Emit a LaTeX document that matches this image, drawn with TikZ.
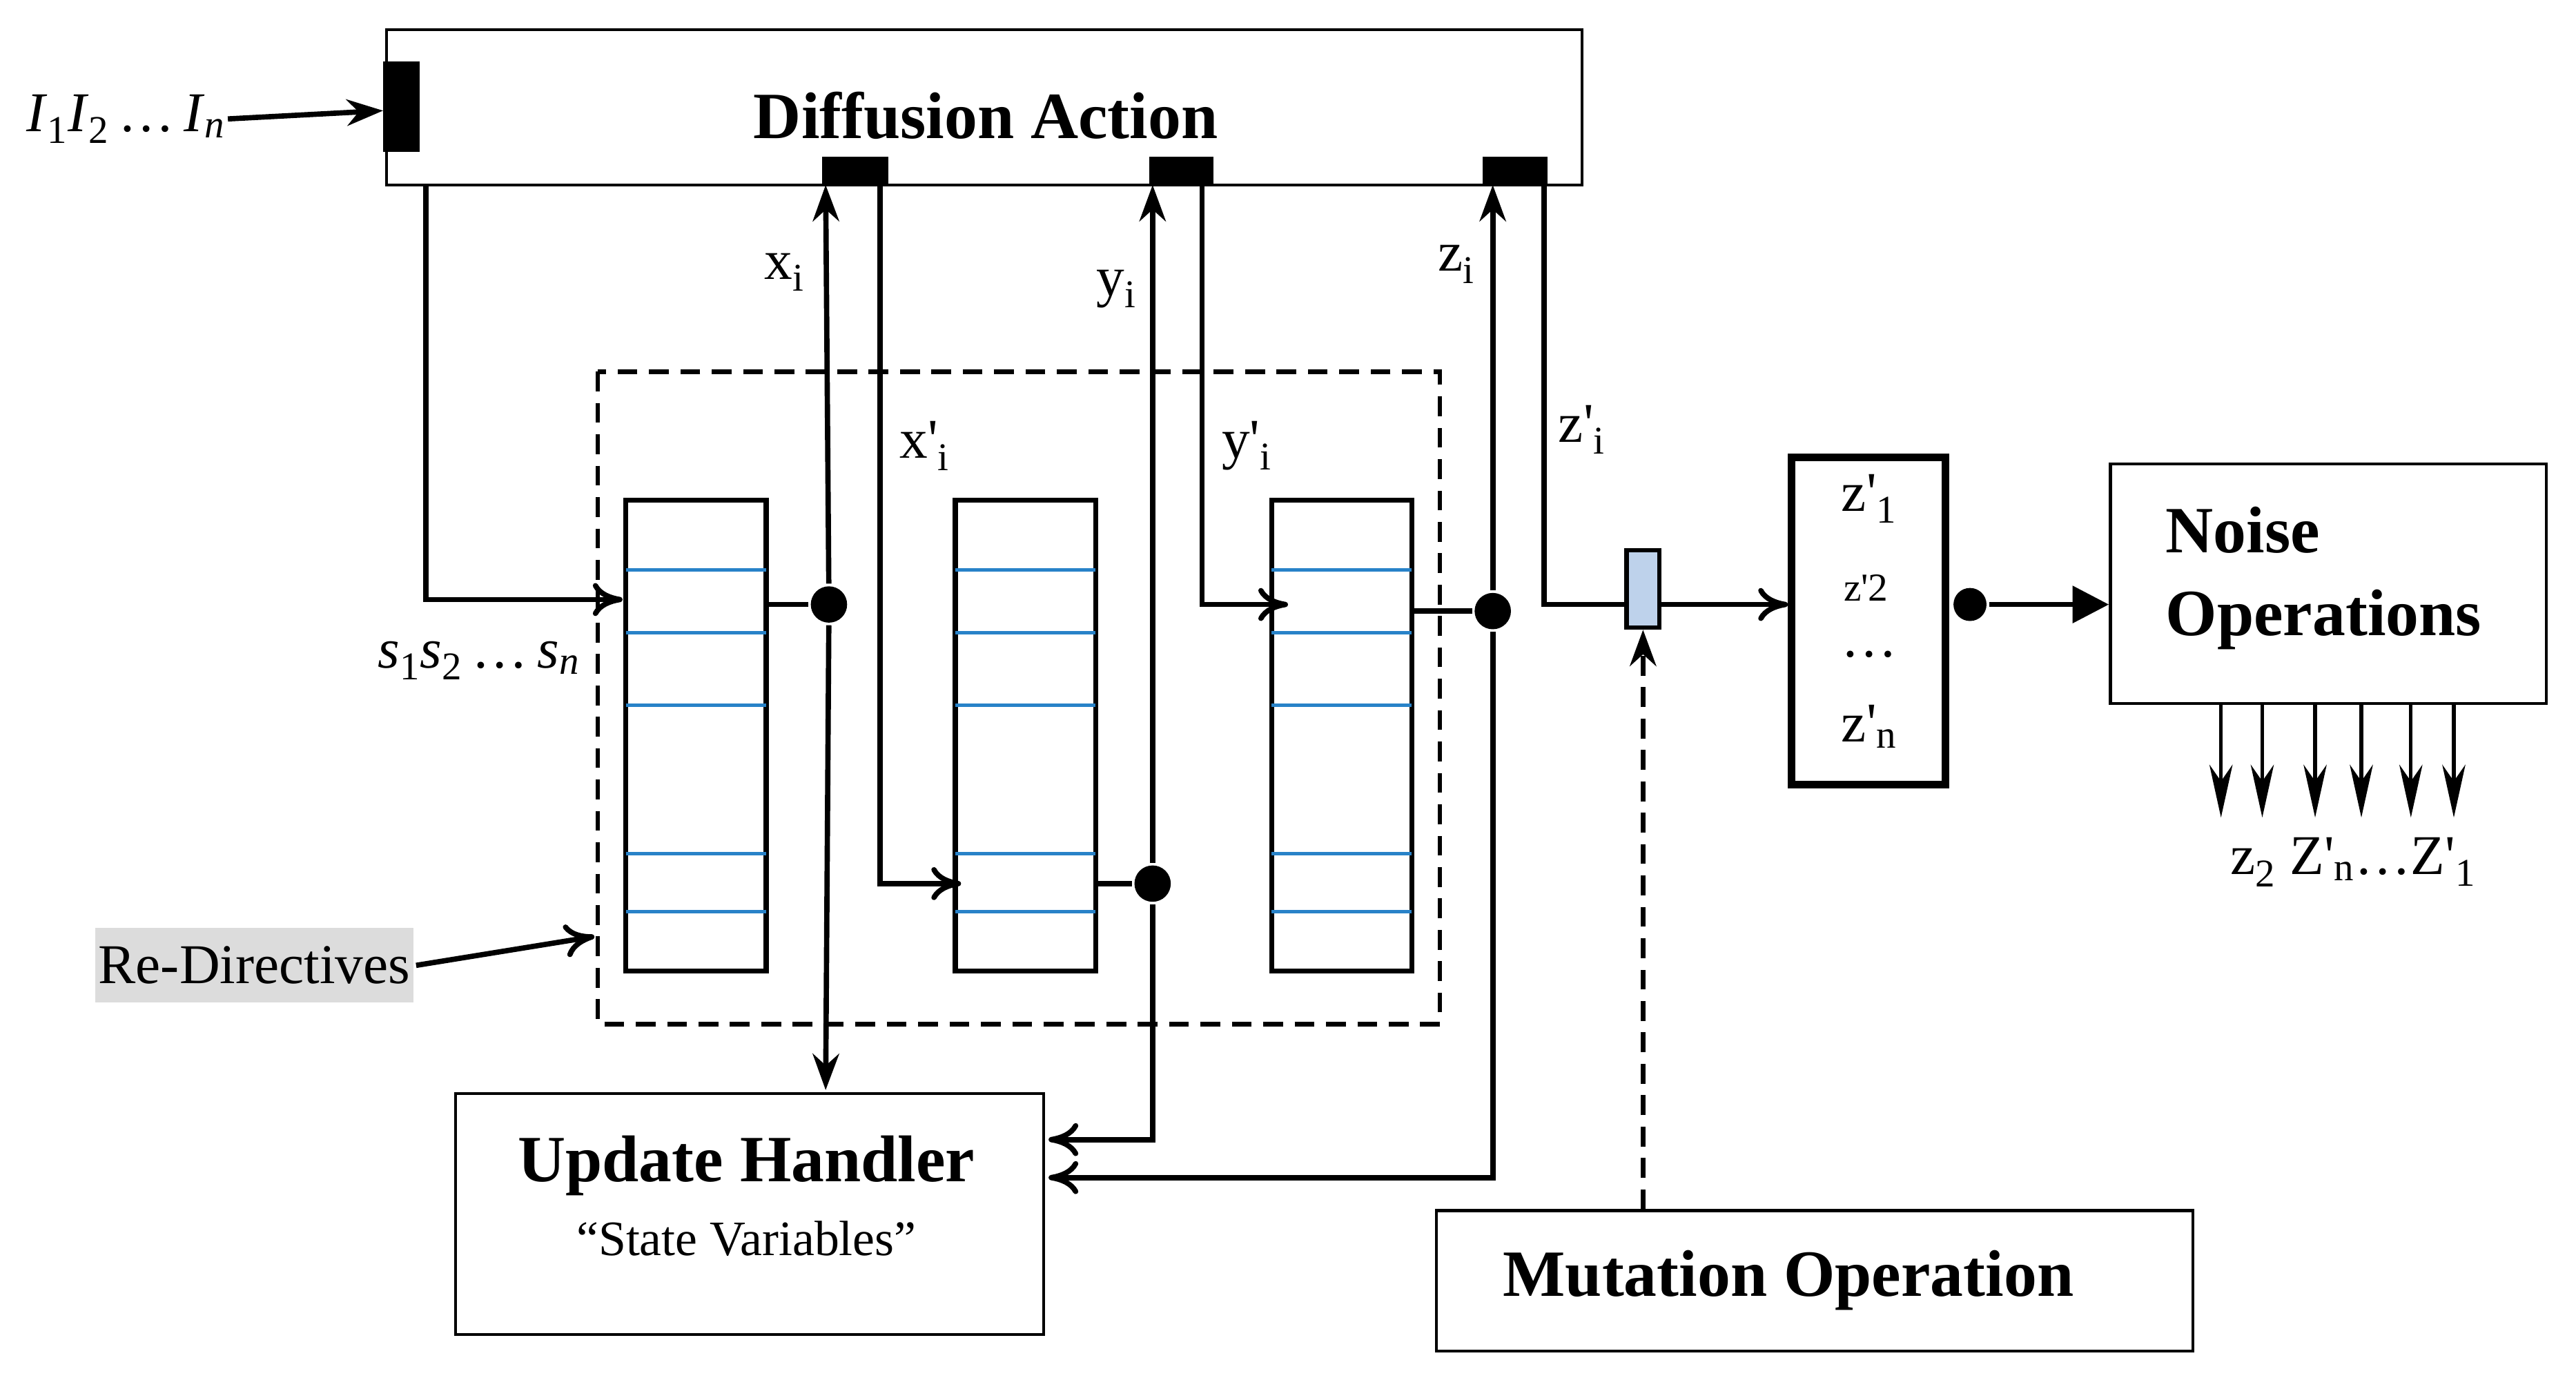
\documentclass[tikz,border=0pt]{standalone}
\usepackage{fontspec}
\setmainfont{Liberation Serif}
\usetikzlibrary{arrows.meta}
\newcommand{\pr}{\textquotesingle}
\begin{document}
\begin{tikzpicture}[x=1pt,y=-1pt,line width=3.2pt,
  box/.style={draw,line width=1.8pt,inner sep=0pt},
  port/.style={fill=black,draw=none},
  reg/.style={draw,line width=3pt,inner sep=0pt,minimum width=85pt,minimum height=285pt},
  arr/.style={-{Stealth[length=22pt,width=16pt]}},
  oarr/.style={-{To[length=18pt,width=20pt]}},
  dot/.style={circle,fill=black,inner sep=0pt,minimum size=22pt},
  lab/.style={font=\fontsize{34}{40}\selectfont,inner sep=0pt},
  bold/.style={font=\fontsize{40}{46}\selectfont\bfseries,inner sep=0pt}]
\useasboundingbox (0,0) rectangle (1560,834);
% Diffusion box
\node[box,minimum width=724pt,minimum height=94pt] (diff) at (596,65) {};
\node[bold] (difft) at (597,70) {Diffusion Action};
\fill[port] (232,37) rectangle (254,92);
\coordinate (pin) at (232,67);
\node[lab,anchor=east] (I) at (138,72) {\textit{I}\textsubscript{1}\textit{I}\textsubscript{2}\,\dots\,\textit{I}\textsubscript{\itshape n}};
\draw[arr] (I.east) -- (pin);
\fill[port] (498,95) rectangle (538,112);
\fill[port] (696,95) rectangle (735,112);
\fill[port] (898,95) rectangle (937,112);
% dashed
\draw[line width=2.8pt,dash pattern=on 12pt off 7pt] (362,225) rectangle (872,620);
% registers
\foreach \n/\x in {r1/421.5,r2/621,r3/812.5}{
  \node[reg] (\n) at (\x,445.5) {};
  \foreach \yy in {345,383,427,517,552}
    \draw[line width=2pt,color={rgb,255:red,40;green,130;blue,200}] ([xshift=1.5pt]\n.west|-0,\yy) -- ([xshift=-1.5pt]\n.east|-0,\yy);
}
% left input
\coordinate (c0) at (258,112);
\coordinate (c1) at (258,363);
\coordinate (s1) at (377,363);
\draw[oarr] (c0) -- (c1) -- (s1);
\node[lab] (s) at (290,400) {\textit{s}\textsubscript{1}\textit{s}\textsubscript{2}\,\dots\,\textit{s}\textsubscript{\itshape n}};
% Update handler
\node[box,minimum width=356pt,minimum height=146pt] (uh) at (454,735) {};
\node[bold] (uht) at (452,706) {Update Handler};
\node[lab,font=\fontsize{30}{36}\selectfont] (uhs) at (452,750) {“State Variables”};
% x_i
\node[dot] (d1) at (502,366) {};
\coordinate (xt) at (500,112); \coordinate (xb) at (500,660);
\draw (r1.east|-0,366) -- (d1);
\draw[arr] (d1) -- (xt);
\draw[arr] (d1) -- (xb);
\node[lab] (xl) at (475,165) {x\textsubscript{i}};
% x'_i
\coordinate (xp0) at (533,112); \coordinate (xp1) at (533,535); \coordinate (xp2) at (582,535);
\draw[oarr] (xp0) -- (xp1) -- (xp2);
\node[lab] (xpl) at (560,270) {x\pr\textsubscript{i}};
% y_i
\node[dot] (d2) at (698,535) {};
\coordinate (yt) at (698,112); \coordinate (yb) at (698,690); \coordinate (ye) at (635,690);
\draw (r2.east|-0,535) -- (d2);
\draw[arr] (d2) -- (yt);
\draw[oarr] (d2) -- (yb) -- (ye);
\node[lab] (yl) at (676,175) {y\textsubscript{i}};
% y'_i
\coordinate (yp0) at (728,112); \coordinate (yp1) at (728,366); \coordinate (yp2) at (780,366);
\draw[oarr] (yp0) -- (yp1) -- (yp2);
\node[lab] (ypl) at (755,270) {y\pr\textsubscript{i}};
% z_i
\node[dot] (d3) at (904,370) {};
\coordinate (zt) at (904,112); \coordinate (zb) at (904,713); \coordinate (ze) at (635,713);
\draw (r3.east|-0,370) -- (d3);
\draw[arr] (d3) -- (zt);
\draw[oarr] (d3) -- (zb) -- (ze);
\node[lab] (zl) at (882,160) {z\textsubscript{i}};
% z'_i
\node[draw,line width=2.6pt,fill={rgb,255:red,190;green,210;blue,235},minimum width=20pt,minimum height=47pt,inner sep=0pt] (mut) at (995,356.5) {};
\coordinate (zp0) at (935,112); \coordinate (zp1) at (935,366);
\draw (zp0) -- (zp1) -- (mut.west|-0,366);
\node[lab] (zpl) at (958,260) {z\pr\textsubscript{i}};
% z box
\node[draw,line width=4.5pt,minimum width=93pt,minimum height=198pt,inner sep=0pt] (zb2) at (1131.5,376) {};
\draw[oarr] (mut.east|-0,366) -- (zb2.west|-0,366);
\node[lab] (z1) at (1132,302) {z\pr\textsubscript{1}};
\node[lab,font=\fontsize{24}{28}\selectfont] (z2) at (1130,356) {z\pr2};
\node[lab] (z3) at (1132,396) {\dots};
\node[lab] (zn) at (1132,440) {z\pr\textsubscript{n}};
% noise
\node[box,minimum width=264pt,minimum height=145pt] (noise) at (1410,353.5) {};
\node[bold,align=left,anchor=west,font=\fontsize{40}{50}\selectfont\bfseries] (nt) at (1310,350) {Noise\\Operations};
\node[dot,minimum size=20pt] (d4) at (1193,366) {};
\draw[-{Triangle[length=22pt,width=22pt]}] (d4) -- (noise.west|-0,366);
\foreach \x [count=\i] in {1345,1370,1402,1430,1460,1486}{
  \coordinate (na\i) at (\x,426); \coordinate (nb\i) at (\x,495);
  \draw[line width=2.2pt,-{Stealth[length=32pt,width=14pt,inset=10pt]}] (na\i) -- (nb\i);
}
\node[lab] (nl) at (1425,522) {z\textsubscript{2} Z\pr\textsubscript{n}\dots Z\pr\textsubscript{1}};
% mutation
\node[box,minimum width=458pt,minimum height=85pt] (mo) at (1099,775.5) {};
\node[bold] (mot) at (1083,775) {Mutation Operation};
\draw[arr,dash pattern=on 12pt off 7pt] (mo.north-|mut) -- (mut.south);
% re-directives
\node[lab,fill={rgb,255:red,220;green,220;blue,220},inner sep=2pt,minimum height=45pt] (rd) at (154,584.5) {Re-Directives};
\coordinate (rde) at (360,567);
\draw[oarr] (rd.east) -- (rde);
\end{tikzpicture}
\end{document}
